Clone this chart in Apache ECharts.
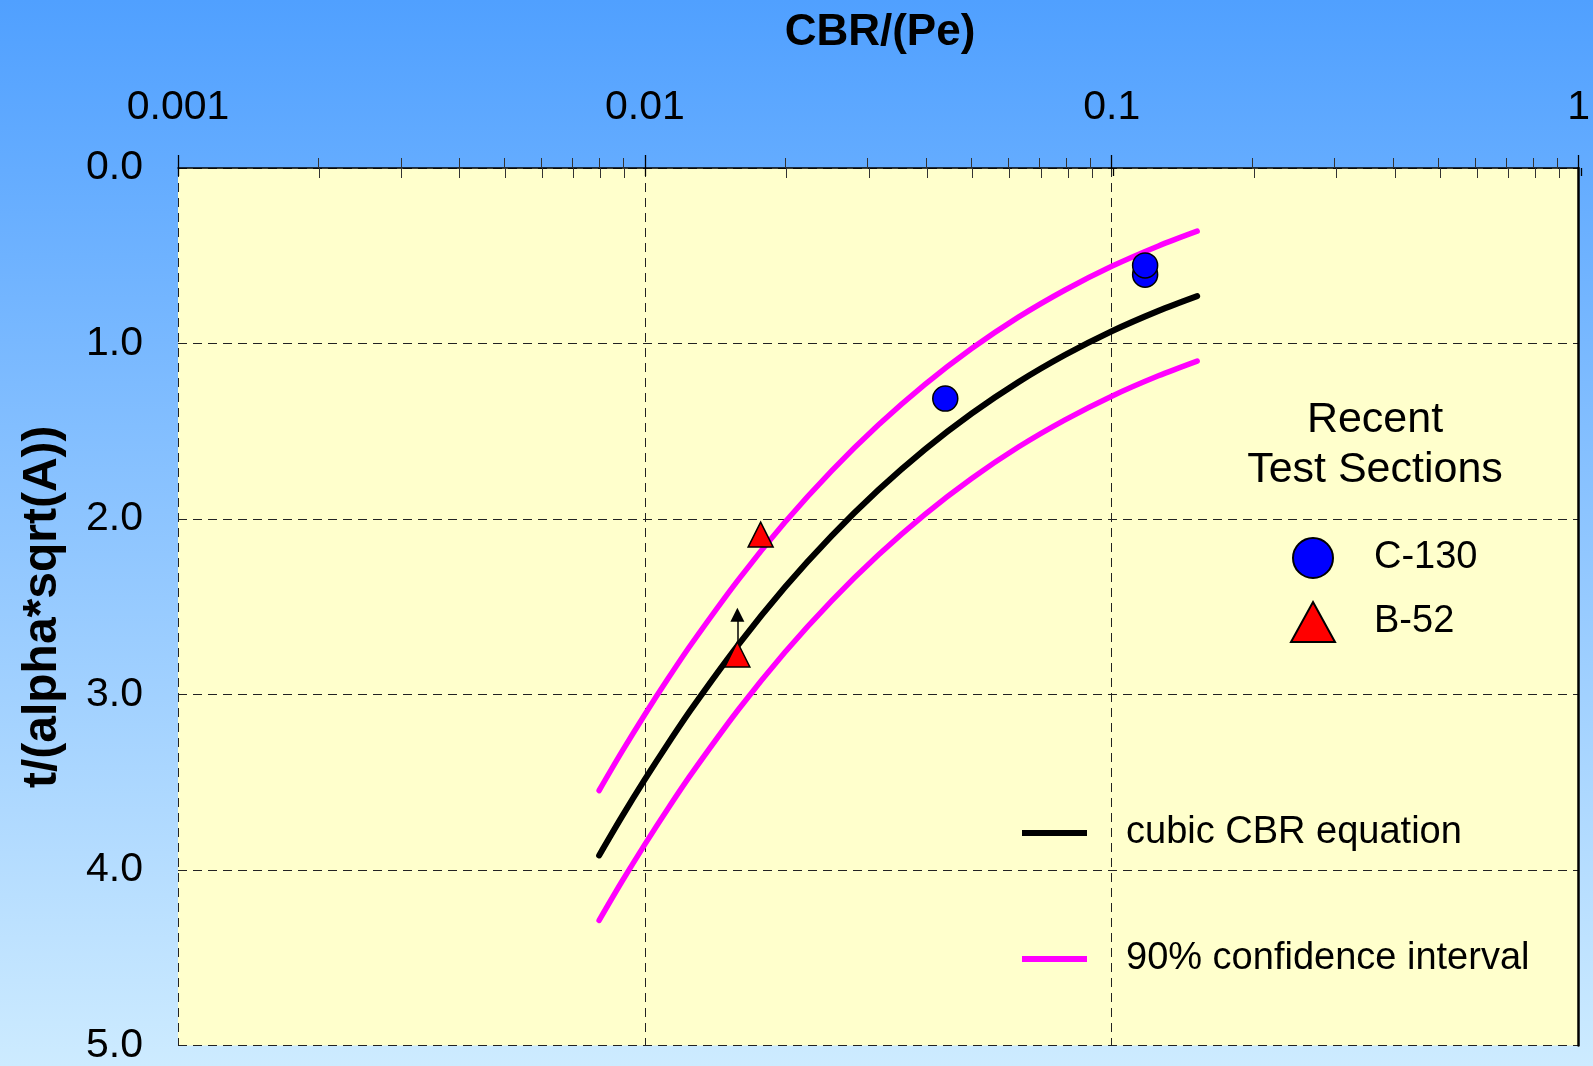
<!DOCTYPE html>
<html>
<head>
<meta charset="utf-8">
<script src="https://cdn.jsdelivr.net/npm/echarts@6/dist/echarts.min.js"></script>
<style>
  html, body { margin: 0; padding: 0; }
  #chart { width: 1593px; height: 1066px; }
</style>
</head>
<body>
<div id="chart"></div>
<script>
// ---- data ----
const xTickLabels = ['0.001', '0.01', '0.1', '1'];
const yTickLabels = ['0.0', '1.0', '2.0', '3.0', '4.0', '5.0'];

// x positions (CBR/(Pe)) at which the curves were read
const curveX = [0.00798, 0.00891, 0.01, 0.01122, 0.01259, 0.01585, 0.01995, 0.02512, 0.03162, 0.03981, 0.05012, 0.0631, 0.07943, 0.1, 0.1259, 0.1524];
const cubicY = [3.917, 3.700, 3.484, 3.278, 3.081, 2.717, 2.389, 2.096, 1.835, 1.603, 1.399, 1.220, 1.065, 0.930, 0.814, 0.730];
const upperY = [3.547, 3.330, 3.114, 2.908, 2.711, 2.347, 2.019, 1.726, 1.465, 1.233, 1.029, 0.850, 0.695, 0.560, 0.444, 0.360];
const lowerY = [4.287, 4.070, 3.854, 3.648, 3.451, 3.087, 2.759, 2.466, 2.205, 1.973, 1.769, 1.590, 1.435, 1.300, 1.184, 1.100];

const c130X = [0.0440, 0.1179, 0.1179];
const c130Y = [1.314, 0.608, 0.555];

const b52X = [0.0177, 0.01578];
const b52Y = [2.089, 2.772];

const arrowX = 0.01578;
const arrowFromY = 2.70;
const arrowToY = 2.545;

// ---- chart ----
const zip = (xs, ys) => xs.map((x, i) => [x, ys[i]]);
const FONT = '"Liberation Sans", Arial, sans-serif';
const GRID = { left: 178, right: 12, top: 168, bottom: 20 };
const dash = [9, 6];

const chart = echarts.init(document.getElementById('chart'));
chart.setOption({
  animation: false,
  backgroundColor: {
    type: 'linear', x: 0, y: 0, x2: 0, y2: 1,
    colorStops: [{ offset: 0, color: '#50A0FF' }, { offset: 1, color: '#CDEBFF' }]
  },
  title: [
    { text: 'CBR/(Pe)', left: 880, top: 11, padding: 0, textAlign: 'center',
      textStyle: { fontFamily: FONT, fontSize: 44, fontWeight: 'bold', color: '#000' } },
    { text: 'Recent\nTest Sections', left: 1375, top: 395, padding: 0, textAlign: 'center',
      textStyle: { fontFamily: FONT, fontSize: 43, fontWeight: 'normal', color: '#000', lineHeight: 50 } }
  ],
  grid: [
    Object.assign({ show: true, backgroundColor: '#FFFFCC', borderWidth: 0 }, GRID),
    Object.assign({ show: false }, GRID)
  ],
  legend: [
    { data: ['C-130', 'B-52'], orient: 'vertical', left: 1285, top: 532,
      itemWidth: 44, itemHeight: 40, itemGap: 22, selectedMode: false,
      textStyle: { fontFamily: FONT, fontSize: 38, color: '#000', padding: [0, 0, 8, 34] } },
    { data: [
        { name: 'cubic CBR equation', icon: 'rect', itemStyle: { color: '#000' } },
        { name: '90% confidence interval', icon: 'rect', itemStyle: { color: '#FF00FF' } }
      ],
      orient: 'vertical', left: 1017, top: 809,
      itemWidth: 65, itemHeight: 6, itemGap: 88, selectedMode: false,
      textStyle: { fontFamily: FONT, fontSize: 38, color: '#000', padding: [0, 0, 0, 34] } }
  ],
  xAxis: [
    { type: 'log', logBase: 10, min: 0.001, max: 1, position: 'top', gridIndex: 0,
      axisLine: { show: true, lineStyle: { color: '#000', width: 1.5 } },
      axisTick: { show: true, inside: false, length: 13, lineStyle: { color: '#000', width: 1.3 } },
      minorTick: { show: true, splitNumber: 9, length: 10, lineStyle: { color: '#333', width: 1 } },
      axisLabel: { show: true, margin: 40, fontFamily: FONT, fontSize: 41, color: '#000',
        formatter: v => xTickLabels[Math.round(Math.log10(v)) + 3] },
      splitLine: { show: true, lineStyle: { color: '#222', width: 1, type: dash } },
      minorSplitLine: { show: false } },
    { type: 'log', logBase: 10, min: 0.001, max: 1, position: 'top', gridIndex: 1,
      axisLine: { show: false },
      axisTick: { show: true, inside: true, length: 8, lineStyle: { color: '#000', width: 1.3 } },
      minorTick: { show: true, splitNumber: 9, length: 10, lineStyle: { color: '#333', width: 1 } },
      axisLabel: { show: false }, splitLine: { show: false } }
  ],
  yAxis: [
    { type: 'value', inverse: true, min: 0, max: 5, interval: 1, gridIndex: 0, position: 'left',
      name: 't/(alpha*sqrt(A))', nameLocation: 'middle', nameGap: 111,
      nameTextStyle: { fontFamily: FONT, fontSize: 48, fontWeight: 'bold', color: '#000' },
      axisLine: { show: false }, axisTick: { show: false },
      axisLabel: { margin: 35, fontFamily: FONT, fontSize: 41, color: '#000',
        formatter: v => yTickLabels[Math.round(v)] },
      splitLine: { show: true, lineStyle: { color: '#222', width: 1, type: dash } } },
    { type: 'value', inverse: true, min: 0, max: 5, interval: 1, gridIndex: 0, position: 'right',
      axisLine: { show: true, lineStyle: { color: '#000', width: 2.5 } },
      axisTick: { show: false }, axisLabel: { show: false }, splitLine: { show: false } },
    { type: 'value', inverse: true, min: 0, max: 5, gridIndex: 1, show: false }
  ],
  series: [
    { name: '90% confidence interval', type: 'line', xAxisIndex: 0, yAxisIndex: 0,
      data: zip(curveX, upperY), smooth: 0.3, symbol: 'none', z: 2,
      lineStyle: { color: '#FF00FF', width: 5.5, cap: 'round' }, itemStyle: { color: '#FF00FF' } },
    { name: '90% confidence interval', type: 'line', xAxisIndex: 0, yAxisIndex: 0,
      data: zip(curveX, lowerY), smooth: 0.3, symbol: 'none', z: 2,
      lineStyle: { color: '#FF00FF', width: 5.5, cap: 'round' }, itemStyle: { color: '#FF00FF' } },
    { name: 'cubic CBR equation', type: 'line', xAxisIndex: 0, yAxisIndex: 0,
      data: zip(curveX, cubicY), smooth: 0.3, symbol: 'none', z: 3,
      lineStyle: { color: '#000', width: 6, cap: 'round' }, itemStyle: { color: '#000' } },
    { name: 'C-130', type: 'scatter', xAxisIndex: 0, yAxisIndex: 0,
      data: zip(c130X, c130Y), symbol: 'circle', symbolSize: 25, z: 5,
      itemStyle: { color: '#0000FF', borderColor: '#000', borderWidth: 1.5, opacity: 1 } },
    { name: 'B-52', type: 'scatter', xAxisIndex: 0, yAxisIndex: 0,
      data: zip(b52X, b52Y), symbol: 'triangle', symbolSize: 25, z: 5,
      itemStyle: { color: '#FF0000', borderColor: '#000', borderWidth: 1.5, opacity: 1 },
      markLine: {
        silent: true, symbol: ['none', 'triangle'], symbolSize: [14, 14],
        label: { show: false },
        lineStyle: { color: '#000', width: 1.5, type: 'solid' },
        data: [[{ coord: [arrowX, arrowFromY] }, { coord: [arrowX, arrowToY] }]]
      } }
  ]
});
</script>
</body>
</html>
